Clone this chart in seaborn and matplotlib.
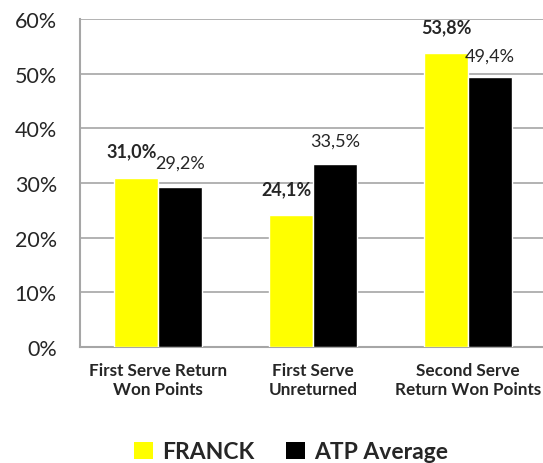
"""
plot.py - Return stats: FRANCK vs ATP average
"""

import pandas as pd
import matplotlib
matplotlib.use('Agg')
import matplotlib.pyplot as plt
from matplotlib.patches import Patch
import seaborn as sns

# ============================================================
# DATA
# ============================================================

categories = ['First Serve Return\nWon Points', 'First Serve\nUnreturned', 'Second Serve\nReturn Won Points']
players = ['FRANCK', 'ATP Average']
franck_values = [31.0, 24.1, 53.8]
atp_values = [29.2, 33.5, 49.4]
y_ticks = [0, 10, 20, 30, 40, 50, 60]

df = pd.DataFrame({
    'category': categories * 2,
    'player': [players[0]] * 3 + [players[1]] * 3,
    'value': franck_values + atp_values,
})

# ============================================================
# PLOT
# ============================================================

sns.set_style('white')
plt.rcParams['font.family'] = ['Lato', 'DejaVu Sans']

colors = ['#FFFF00', '#000000']
grid_color = '#a6a6a6'

fig = plt.figure(figsize=(5.43, 4.64), dpi=100)
# axes runs slightly past the right edge, like the original
ax = fig.add_axes([0.1482, 0.25, 0.8564, 0.707])

sns.barplot(data=df, x='category', y='value', hue='player', palette=colors,
            width=0.568, saturation=1, ax=ax, legend=False, zorder=3)

ax.set_ylim(0, 60)
ax.set_xlim(-0.5, 2.5)
ax.set_yticks(y_ticks)
ax.set_yticklabels([f'{t}%' for t in y_ticks], fontsize=15.5)
ax.tick_params(axis='x', labelsize=12.3, length=0, pad=11)
ax.tick_params(axis='y', length=0, pad=17)
for lbl in ax.get_xticklabels():
    lbl.set_fontweight('bold')
ax.set_xlabel('')
ax.set_ylabel('')

ax.grid(axis='y', color=grid_color, linewidth=1.2, zorder=0)
ax.set_axisbelow(True)
for side in ['top', 'right']:
    ax.spines[side].set_visible(False)
for side in ['left', 'bottom']:
    ax.spines[side].set_color(grid_color)
    ax.spines[side].set_linewidth(1.5)

# data labels (FRANCK labels sit behind the bars, as in the original)
franck_bars, atp_bars = ax.containers[0], ax.containers[1]
franck_dx = [-3, -3, 0]
for bar, v, dx in zip(franck_bars, franck_values, franck_dx):
    ax.annotate(f'{v:.1f}%'.replace('.', ','), (bar.get_x() + bar.get_width() / 2, v),
                xytext=(dx, 19), textcoords='offset points', ha='center', va='center',
                fontsize=13, fontweight='bold', zorder=2)
atp_dy = [18, 17, 15]
for bar, v, dy in zip(atp_bars, atp_values, atp_dy):
    ax.annotate(f'{v:.1f}%'.replace('.', ','), (bar.get_x() + bar.get_width() / 2, v),
                xytext=(0, dy), textcoords='offset points', ha='center', va='center',
                fontsize=13, zorder=4)

handles = [Patch(facecolor=c, edgecolor='none') for c in colors]
leg = fig.legend(handles, players, loc='center', bbox_to_anchor=(0.536, 0.024), ncol=2,
                 frameon=False, handlelength=0.8, handleheight=0.8, handletextpad=0.4,
                 columnspacing=1.4, prop={'size': 16.5, 'weight': 'bold'})

plt.savefig('out.png', dpi=100)
